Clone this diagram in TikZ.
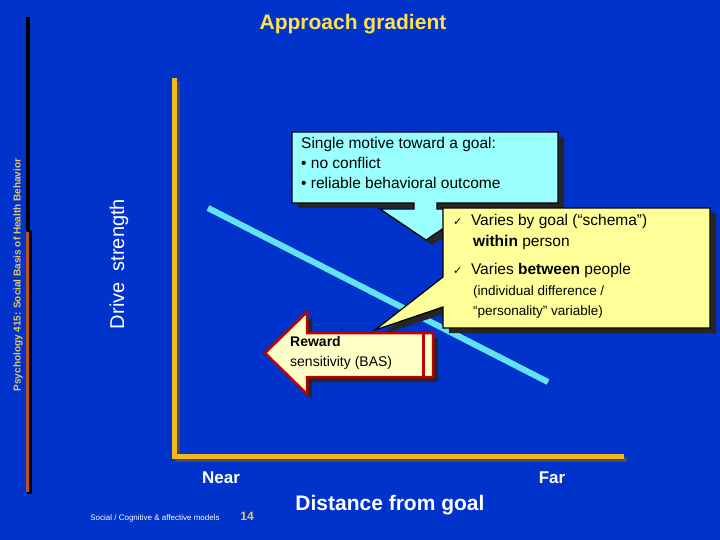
\documentclass[tikz,border=0pt]{standalone}
\usepackage{fontspec}
\setmainfont{Liberation Sans}
\newfontfamily\djv{DejaVu Sans}
\usetikzlibrary{shapes.arrows}
\definecolor{bg}{HTML}{0033CC}
\definecolor{axis}{HTML}{F5B81C}
\definecolor{cyanl}{HTML}{5FE3F5}
\definecolor{cbox}{HTML}{99FFFF}
\definecolor{ybox}{HTML}{FFFF99}
\definecolor{rfill}{HTML}{FFFFC8}
\definecolor{rred}{HTML}{C00000}
\definecolor{ttl}{HTML}{FFE14A}
\definecolor{side}{HTML}{E8C860}
\definecolor{brown}{HTML}{C0501A}
\tikzset{
  wtext/.style={text=white,font=\bfseries},
  boxline/.style={draw=black,line width=1.2pt},
  shadowk/.style={fill=black!85},
}
\newcommand{\ck}{{\djv\fontsize{11}{11}\selectfont ✓}}
\begin{document}
\begin{tikzpicture}[x=1pt,y=-1pt]
\fill[bg] (0,0) rectangle (720,540);
\useasboundingbox (0,0) rectangle (720,540);
% title
\node[text=ttl,font=\bfseries\fontsize{21}{24}\selectfont] (title) at (353,24) {Approach gradient};
% left bar
\draw[line width=4pt,black] (28,17) -- (28,230);
\draw[line width=5pt,black] (29,230) -- (29,494);
\draw[line width=3pt,brown] (27,232) -- (27,492);
\node[rotate=90,text=side,font=\bfseries\fontsize{10}{12}\selectfont] (side) at (18,275) {Psychology 415: Social Basis of Health Behavior};
% axes
\draw[line width=5pt,black!70,line join=miter] (177,81) -- (177,459) -- (627,459);
\draw[line width=5pt,axis,line join=miter] (174,78) -- (174,456) -- (624,456);
\coordinate (o) at (174,456);
\node[rotate=90,text=white,font=\fontsize{20}{24}\selectfont] (ylab) at (119,264) {Drive\ \ strength};
\node[wtext,font=\bfseries\fontsize{17}{20}\selectfont] (near) at (221,478) {Near};
\node[wtext,font=\bfseries\fontsize{17}{20}\selectfont] (far) at (552,478) {Far};
\node[wtext,font=\bfseries\fontsize{21}{24}\selectfont] (xlab) at (390,505) {Distance from goal};
\node[text=white,font=\fontsize{8}{10}\selectfont] (foot) at (155,518) {Social / Cognitive \& affective models};
\node[text=side,font=\bfseries\fontsize{12}{14}\selectfont] (pg) at (247,516) {14};
% gradient line
\coordinate (g1) at (208,208);
\coordinate (g2) at (548,382);
\draw[line width=6pt,black!60,shift={(2,3)}] (g1) -- (g2);
\draw[line width=6pt,cyanl] (g1) -- (g2);
% cyan callout
\fill[shadowk,shift={(6,5)}] (292,132) -- (558,132) -- (558,203) -- (437,203) -- (437,209) -- (472,209) -- (426,240) -- (380,209) -- (414,209) -- (414,203) -- (292,203) -- cycle;
\draw[boxline,fill=cbox] (292,132) -- (558,132) -- (558,203) -- (437,203) -- (437,209) -- (472,209) -- (426,240) -- (380,209) -- (414,209) -- (414,203) -- (292,203) -- cycle;
\node[anchor=north west,align=left,font=\fontsize{15.5}{21}\selectfont,inner sep=0pt] (c1) at (301,137) {Single motive toward a goal:\\[-1pt]\textbullet\ no conflict\\[-1pt]\textbullet\ reliable behavioral outcome};
% yellow callout
\fill[shadowk,shift={(6,5)}] (443,208) -- (710,208) -- (710,328) -- (443,328) -- (443,307) -- (375,330) -- (443,277) -- cycle;
\draw[boxline,fill=ybox] (443,208) -- (710,208) -- (710,328) -- (443,328) -- (443,307) -- (375,330) -- (443,277) -- cycle;
\node[anchor=north west,align=left,font=\fontsize{15.5}{21}\selectfont,inner sep=0pt] (y1) at (453,214) {\ck\ \ Varies by goal (“schema”)\\\hspace{20pt}\textbf{within} person};
\node[anchor=north west,align=left,font=\fontsize{15.5}{21}\selectfont,inner sep=0pt] (y2) at (453,263) {\ck\ \ Varies \textbf{between} people};
\node[anchor=north west,align=left,font=\fontsize{13.5}{20}\selectfont,inner sep=0pt] (y3) at (473,286) {(individual difference /\\“personality” variable)};
% reward arrow
\fill[shadowk,shift={(5,5)}] (265,353) -- (307,312) -- (307,333) -- (433,333) -- (433,377) -- (307,377) -- (307,394) -- cycle;
\draw[draw=rred,line width=2.5pt,fill=rfill,line join=miter] (265,353) -- (307,312) -- (307,333) -- (433,333) -- (433,377) -- (307,377) -- (307,394) -- cycle;
\fill[rred] (422,333) rectangle (425,377);
\node[anchor=north west,align=left,inner sep=0pt,font=\fontsize{14}{20}\selectfont] (rw) at (290,336) {\textbf{Reward}\\sensitivity (BAS)};
\end{tikzpicture}
\end{document}
